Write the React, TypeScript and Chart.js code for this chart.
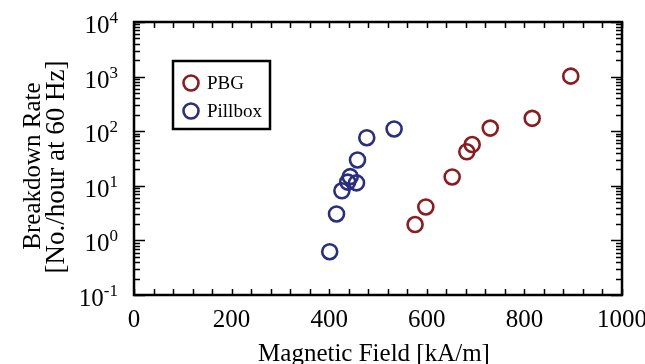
import React, { useEffect, useRef } from "react";
import Chart from "chart.js/auto";

// Breakdown rate versus peak surface magnetic field
const pbgField = [576, 598, 652, 682, 693, 730, 816, 895];
const pbgRate = [1.95, 4.1, 14.5, 42, 57, 114, 172, 1020];

const pillboxField = [401, 415, 426, 438, 443, 456, 458, 477, 533];
const pillboxRate = [0.62, 3.05, 8.1, 11.7, 14.7, 11.3, 29.7, 76, 110];

const xTickValues = [0, 200, 400, 600, 800, 1000];
const xTickLabels = ["0", "200", "400", "600", "800", "1000"];
const yTickExponents = [-1, 0, 1, 2, 3, 4];

const seriesNames = ["PBG", "Pillbox"];
const seriesColors = ["#8c1b1f", "#2a2e80"];

const xTitle = "Magnetic Field [kA/m]";
const yTitleLines = ["Breakdown Rate", "[No./hour at 60 Hz]"];

const FONT = '"Liberation Serif", "Times New Roman", serif';

const framePlugin = {
  id: "frameAndLabels",
  afterDraw(chart: any) {
    const ctx = chart.ctx as CanvasRenderingContext2D;
    const a = chart.chartArea;
    const xs = chart.scales.x;
    const ys = chart.scales.y;
    ctx.save();
    ctx.strokeStyle = "#000";
    ctx.fillStyle = "#000";

    // inward ticks on all four sides
    ctx.lineWidth = 1.5;
    ctx.beginPath();
    for (let v = 0; v <= 1000; v += 40) {
      const px = Math.round(xs.getPixelForValue(v)) + 0.5;
      ctx.moveTo(px, a.bottom);
      ctx.lineTo(px, a.bottom - 6);
      ctx.moveTo(px, a.top);
      ctx.lineTo(px, a.top + 6);
    }
    for (let e = -1; e <= 4; e++) {
      for (let m = 1; m <= 9; m++) {
        if (e === 4 && m > 1) break;
        const py = Math.round(ys.getPixelForValue(m * Math.pow(10, e))) + 0.5;
        const len = m === 1 ? 11 : 6;
        ctx.moveTo(a.left, py);
        ctx.lineTo(a.left + len, py);
        ctx.moveTo(a.right, py);
        ctx.lineTo(a.right - len, py);
      }
    }
    ctx.stroke();

    // frame
    ctx.lineWidth = 2.5;
    ctx.strokeRect(a.left, a.top, a.right - a.left, a.bottom - a.top);

    // x tick labels
    ctx.font = `25px ${FONT}`;
    ctx.textAlign = "center";
    ctx.textBaseline = "alphabetic";
    xTickValues.forEach((v, i) => {
      ctx.fillText(xTickLabels[i], xs.getPixelForValue(v), a.bottom + 32);
    });

    // y tick labels: 10 with superscript exponent
    yTickExponents.forEach((e) => {
      const py = ys.getPixelForValue(Math.pow(10, e));
      const sup = e < 0 ? "-" + Math.abs(e) : String(e);
      ctx.font = `17px ${FONT}`;
      const supW = ctx.measureText(sup).width;
      ctx.font = `25px ${FONT}`;
      const baseW = ctx.measureText("10").width;
      const right = 118;
      ctx.textAlign = "left";
      ctx.fillText("10", right - supW - baseW, py + 11);
      ctx.font = `17px ${FONT}`;
      ctx.fillText(sup, right - supW, py + 1);
    });

    // axis titles
    ctx.font = `25px ${FONT}`;
    ctx.textAlign = "center";
    ctx.fillText(xTitle, 374, 361);
    ctx.save();
    ctx.translate(40, 166);
    ctx.rotate(-Math.PI / 2);
    ctx.fillText(yTitleLines[0], 0, 0);
    ctx.restore();
    ctx.save();
    ctx.font = `27px ${FONT}`;
    ctx.translate(64, 167);
    ctx.rotate(-Math.PI / 2);
    ctx.fillText(yTitleLines[1], 0, 0);
    ctx.restore();

    // legend box
    ctx.lineWidth = 2.5;
    ctx.strokeRect(173, 61, 97, 68);
    ctx.font = `19px ${FONT}`;
    ctx.textAlign = "left";
    ctx.textBaseline = "middle";
    seriesNames.forEach((name, i) => {
      const cy = 83 + i * 28;
      ctx.beginPath();
      ctx.strokeStyle = seriesColors[i];
      ctx.lineWidth = 2.6;
      ctx.arc(191, cy, 7.5, 0, Math.PI * 2);
      ctx.stroke();
      ctx.fillStyle = "#000";
      ctx.fillText(name, 207, cy + 1);
    });
    ctx.restore();
  },
};

export default function App() {
  const ref = useRef<HTMLCanvasElement | null>(null);
  useEffect(() => {
    if (!ref.current) return;
    const chart = new Chart(ref.current, {
      type: "scatter",
      data: {
        datasets: [
          {
            label: seriesNames[0],
            data: pbgField.map((x, i) => ({ x, y: pbgRate[i] })),
            borderColor: seriesColors[0],
            backgroundColor: "rgba(0,0,0,0)",
            pointRadius: 7.5,
            pointBorderWidth: 2.6,
          },
          {
            label: seriesNames[1],
            data: pillboxField.map((x, i) => ({ x, y: pillboxRate[i] })),
            borderColor: seriesColors[1],
            backgroundColor: "rgba(0,0,0,0)",
            pointRadius: 7.5,
            pointBorderWidth: 2.6,
          },
        ],
      },
      options: {
        animation: false,
        responsive: false,
        events: [],
        layout: { padding: { left: 134, top: 22, right: 23, bottom: 69 } },
        scales: {
          x: { type: "linear", min: 0, max: 1000, display: false },
          y: { type: "logarithmic", min: 0.1, max: 10000, display: false },
        },
        plugins: { legend: { display: false }, tooltip: { enabled: false } },
      },
      plugins: [framePlugin],
    });
    return () => chart.destroy();
  }, []);
  return (
    <div style={{ position: "fixed", left: 0, top: 0, width: 645, height: 364, background: "#fff" }}>
      <canvas ref={ref} width={645} height={364} style={{ display: "block" }} />
    </div>
  );
}
